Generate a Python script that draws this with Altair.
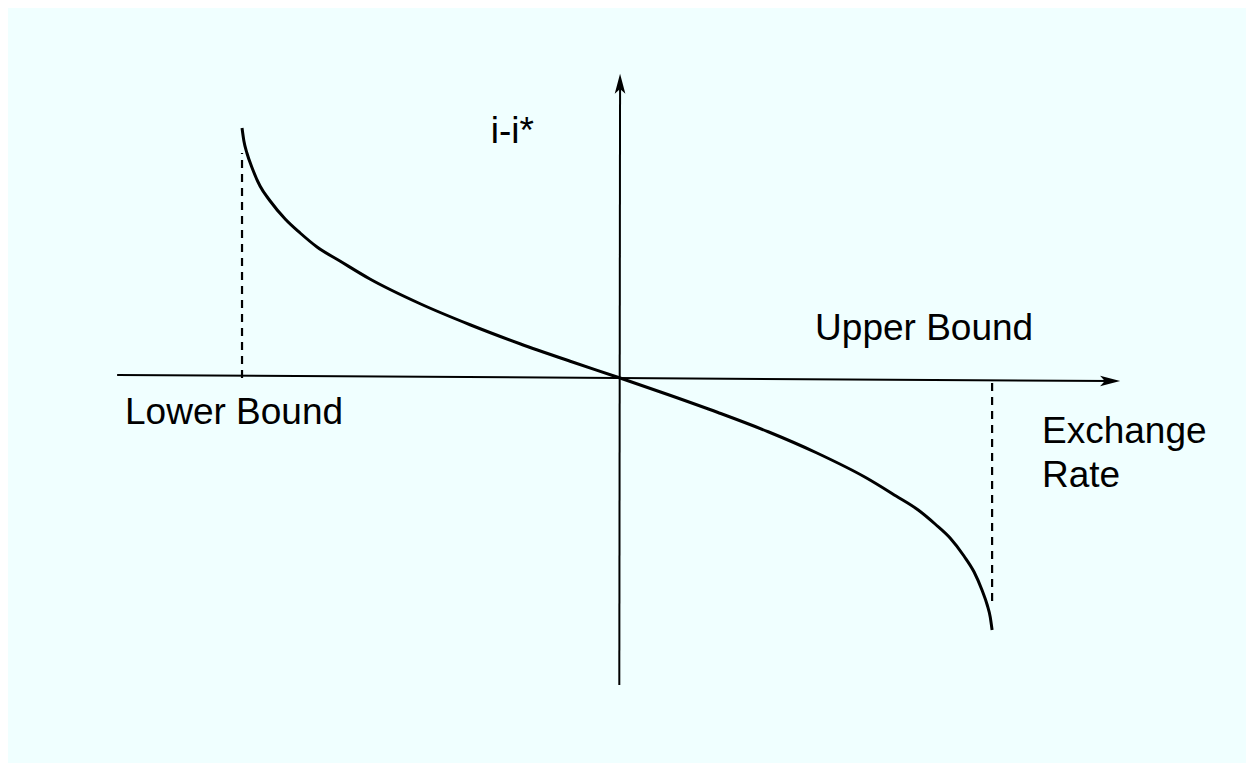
import altair as alt
import pandas as pd

# Curve (exchange-rate deviation vs interest differential i-i*)
curve_x = [-1.008, -1.003, -0.995, -0.981, -0.96, -0.933, -0.893, -0.853, -0.808,
           -0.747, -0.667, -0.533, -0.40, -0.267, -0.133, 0.0,
           0.131, 0.261, 0.395, 0.525, 0.656, 0.736, 0.795, 0.84, 0.88,
           0.917, 0.944, 0.965, 0.979, 0.987, 0.992]
curve_y = [1.0, 0.948, 0.90, 0.84, 0.768, 0.708, 0.636, 0.58, 0.524,
           0.468, 0.396, 0.297, 0.213, 0.137, 0.067, 0.0,
           -0.068, -0.138, -0.215, -0.30, -0.399, -0.472, -0.528, -0.584, -0.64,
           -0.712, -0.776, -0.848, -0.908, -0.956, -1.008]

# Bounds (dashed verticals)
bound_x = [-1.008, 0.992]
bound_y0 = [0.0, -0.02]
bound_y1 = [0.9, -0.9]

# Axes
axis_x = [-1.341, -0.002]
axis_y = [0.012, -1.228]
axis_x2 = [1.31, 0.0]
axis_y2 = [-0.012, 1.18]

# Arrowheads
arrow_x = [1.302, 0.0]
arrow_y = [-0.012, 1.17]
arrow_shape = ["M1,0 L-0.7,-0.45 L-0.3,0 L-0.7,0.45 Z", "M0,-1 L0.45,0.7 L0,0.3 L-0.45,0.7 Z"]

# Labels
label_text = ["i-i*", "Upper Bound", "Lower Bound", "Exchange", "Rate"]
label_x = [-0.345, 0.52, -1.32, 1.125, 1.125]
label_y = [0.94, 0.152, -0.184, -0.26, -0.436]

XDOM = [-1.632, 1.669]
YDOM = [-1.54, 1.48]

xs = alt.Scale(domain=XDOM, nice=False, zero=False)
ys = alt.Scale(domain=YDOM, nice=False, zero=False)

curve_df = pd.DataFrame({"x": curve_x, "y": curve_y})
bound_df = pd.DataFrame({"x": bound_x, "y": bound_y0, "y2": bound_y1})
axis_df = pd.DataFrame({"x": axis_x, "y": axis_y, "x2": axis_x2, "y2": axis_y2})
arrow_df = pd.DataFrame({"x": arrow_x, "y": arrow_y, "shape": arrow_shape})
label_df = pd.DataFrame({"label": label_text, "x": label_x, "y": label_y})

axes = alt.Chart(axis_df).mark_rule(color="black", strokeWidth=2).encode(
    x=alt.X("x:Q", scale=xs, axis=None),
    y=alt.Y("y:Q", scale=ys, axis=None),
    x2="x2:Q",
    y2="y2:Q",
)

arrows = alt.Chart(arrow_df).mark_point(filled=True, color="black", size=560, opacity=1).encode(
    x=alt.X("x:Q", scale=xs, axis=None),
    y=alt.Y("y:Q", scale=ys, axis=None),
    shape=alt.Shape("shape:N", scale=None, legend=None),
)

bounds = alt.Chart(bound_df).mark_rule(color="black", strokeWidth=2.2, strokeDash=[8, 6]).encode(
    x=alt.X("x:Q", scale=xs, axis=None),
    y=alt.Y("y:Q", scale=ys, axis=None),
    y2="y2:Q",
)

curve = alt.Chart(curve_df).mark_line(color="black", strokeWidth=3, interpolate="monotone").encode(
    x=alt.X("x:Q", scale=xs, axis=None),
    y=alt.Y("y:Q", scale=ys, axis=None),
    order="x:Q",
)

labels = alt.Chart(label_df).mark_text(
    font="Liberation Sans", fontSize=37, align="left", baseline="alphabetic", color="black"
).encode(
    x=alt.X("x:Q", scale=xs, axis=None),
    y=alt.Y("y:Q", scale=ys, axis=None),
    text="label:N",
)

chart = alt.layer(axes, bounds, curve, arrows, labels).properties(
    width=1238,
    height=755,
    background="#F0FFFF",
    padding=0,
    autosize=alt.AutoSizeParams(type="fit", contains="padding"),
).configure_view(stroke=None)

chart.save("out.html", embed_options={"renderer": "svg", "actions": False})
